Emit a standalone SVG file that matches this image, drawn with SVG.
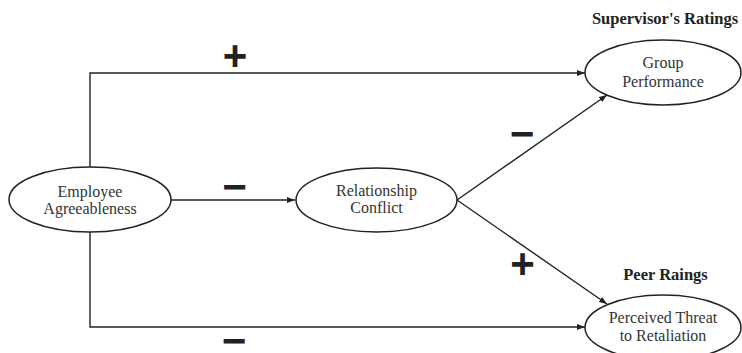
<svg xmlns="http://www.w3.org/2000/svg" width="742" height="353" viewBox="0 0 742 353">
<style>
.node ellipse{fill:#fff;stroke:#222;stroke-width:1.5}
.lbl{font-family:"Liberation Serif","Times New Roman",serif;font-size:16px;fill:#333;text-anchor:middle}
.hdr{font-family:"Liberation Serif","Times New Roman",serif;font-size:16.5px;font-weight:bold;fill:#222;text-anchor:middle}
.sign{font-family:"Liberation Sans",Arial,sans-serif;font-size:42px;font-weight:bold;fill:#222;text-anchor:middle}
.conn{fill:none;stroke:#222;stroke-width:1.4}
</style>
<defs>
<marker id="arr" markerUnits="userSpaceOnUse" markerWidth="9" markerHeight="7" refX="8" refY="3.5" orient="auto">
<path d="M0,0.5 L8,3.5 L0,6.5 z" fill="#222"/>
</marker>
</defs>
<rect width="742" height="353" fill="#fff"/>
<g id="connectors">
<path class="conn" d="M90,167 V73 H585" marker-end="url(#arr)"/>
<path class="conn" d="M171,200 H295" marker-end="url(#arr)"/>
<path class="conn" d="M90,232 V327 H585" marker-end="url(#arr)"/>
<path class="conn" d="M457,200 L607,95" marker-end="url(#arr)"/>
<path class="conn" d="M457,200 L607,304" marker-end="url(#arr)"/>
</g>
<g id="signs">
<text class="sign" x="235" y="69.5">+</text>
<text class="sign" x="234.5" y="200.5">−</text>
<text class="sign" x="522" y="148">−</text>
<text class="sign" x="522.5" y="278">+</text>
<text class="sign" x="234" y="355">−</text>
</g>
<g id="employee" class="node">
<ellipse cx="90" cy="199.5" rx="81" ry="32.5"/>
<text class="lbl" x="90" y="197">Employee</text>
<text class="lbl" x="90" y="214">Agreeableness</text>
</g>
<g id="relationship" class="node">
<ellipse cx="376.5" cy="200" rx="80.5" ry="32"/>
<text class="lbl" x="376.5" y="196">Relationship</text>
<text class="lbl" x="376.5" y="213">Conflict</text>
</g>
<g id="group" class="node">
<ellipse cx="663" cy="72.5" rx="78" ry="32.5"/>
<text class="lbl" x="663" y="68">Group</text>
<text class="lbl" x="663" y="87">Performance</text>
</g>
<g id="threat" class="node">
<ellipse cx="663" cy="327.5" rx="78" ry="32.5"/>
<text class="lbl" x="663" y="323">Perceived Threat</text>
<text class="lbl" x="663" y="341">to Retaliation</text>
</g>
<g id="headers">
<text class="hdr" x="665" y="24">Supervisor's Ratings</text>
<text class="hdr" x="665.5" y="280">Peer Raings</text>
</g>
</svg>
